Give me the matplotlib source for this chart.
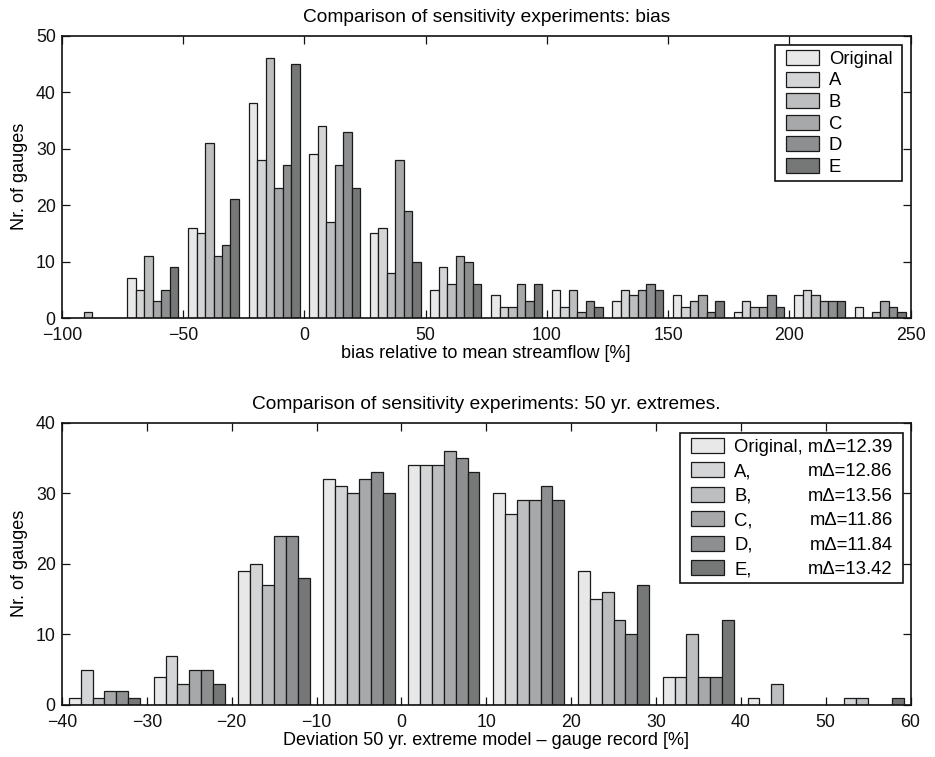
import matplotlib
matplotlib.use("Agg")
import matplotlib.pyplot as plt
from matplotlib.patches import Rectangle
import numpy as np

plt.rcParams['font.family'] = ['Liberation Sans', 'DejaVu Sans']
plt.rcParams['axes.unicode_minus'] = True

# ---------------- data ----------------
series_names = ["Original", "A", "B", "C", "D", "E"]
colors = ['#e7e8e7', '#d4d5d6', '#bdbebf', '#a7a8a9', '#8e8f90', '#767777']

# top: bias relative to mean streamflow, bins of 25 %
bias_centers = [-87.5, -62.5, -37.5, -12.5, 12.5, 37.5, 62.5, 87.5,
                112.5, 137.5, 162.5, 187.5, 212.5, 237.5]
bias_original = [0, 7, 16, 38, 29, 15, 5, 4, 5, 3, 4, 1, 4, 2]
bias_A = [0, 5, 15, 28, 34, 16, 9, 2, 2, 5, 2, 3, 5, 0]
bias_B = [1, 11, 31, 46, 17, 8, 6, 2, 5, 4, 3, 2, 4, 1]
bias_C = [0, 3, 11, 23, 27, 28, 11, 6, 1, 5, 4, 2, 3, 3]
bias_D = [0, 5, 13, 27, 33, 19, 10, 3, 3, 6, 1, 4, 3, 2]
bias_E = [0, 9, 21, 45, 23, 10, 6, 6, 2, 5, 3, 2, 3, 1]
bias_bin_width = 25

# bottom: deviation of 50 yr extremes, bins of 10 %
ext_centers = [-35, -25, -15, -5, 5, 15, 25, 35, 45, 55]
ext_original = [1, 4, 19, 32, 34, 30, 19, 4, 1, 0]
ext_A = [5, 7, 20, 31, 34, 27, 15, 4, 0, 1]
ext_B = [1, 3, 17, 30, 34, 29, 16, 10, 3, 1]
ext_C = [2, 5, 24, 32, 36, 29, 12, 4, 0, 0]
ext_D = [2, 5, 24, 33, 35, 31, 10, 4, 0, 0]
ext_E = [1, 3, 18, 30, 33, 29, 17, 12, 0, 1]
ext_bin_width = 10
ext_mdelta = [12.39, 12.86, 13.56, 11.86, 11.84, 13.42]

bias_xticks = [-100, -50, 0, 50, 100, 150, 200, 250]
bias_yticks = [0, 10, 20, 30, 40, 50]
ext_xticks = [-40, -30, -20, -10, 0, 10, 20, 30, 40, 50, 60]
ext_yticks = [0, 10, 20, 30, 40]

# ---------------- figure ----------------
W_PX, H_PX = 935, 757
fig = plt.figure(figsize=(W_PX / 100, H_PX / 100), dpi=100)
ax1 = fig.add_axes([0.0663, 0.5799, 0.9075, 0.3732])
ax2 = fig.add_axes([0.0663, 0.0687, 0.9075, 0.3729])

TICK_FS = 12.8
LAB_FS = 13
TITLE_FS = 13.8
LEG_FS = 13.3
EDGE = '#1a1a1a'
INK = '#111111'


def grouped(ax, centers, data, binw):
    centers = np.asarray(centers, dtype=float)
    bw = 0.14 * binw
    handles = []
    for i, (vals, c) in enumerate(zip(data, colors)):
        h = ax.bar(centers + (i - 2.5) * bw, vals, width=bw, color=c,
                   edgecolor=EDGE, linewidth=0.9, zorder=2)
        handles.append(h)
    return handles


def style(ax, xlim, ylim, xt, yt):
    ax.set_xlim(*xlim)
    ax.set_ylim(*ylim)
    ax.set_xticks(xt)
    ax.set_yticks(yt)
    ax.tick_params(direction='in', top=True, right=True, length=5.8,
                   width=0.9, labelsize=TICK_FS, colors=INK)
    ax.tick_params(axis='x', pad=6.4)
    ax.tick_params(axis='y', pad=4.5)
    for s in ax.spines.values():
        s.set_linewidth(1.2)
        s.set_color(INK)
        s.set_zorder(5)


def make_legend(ax, handles, labels, right_px, top_px, spacing):
    # content anchored at upper right; frame drawn separately with wider side padding
    leg = ax.legend(handles, labels, loc='upper right',
                    bbox_to_anchor=((right_px - 10) / W_PX, 1 - (top_px + 5) / H_PX),
                    bbox_transform=fig.transFigure, borderaxespad=0,
                    fontsize=LEG_FS, frameon=False, borderpad=0,
                    handlelength=1.77, handleheight=0.87,
                    labelspacing=spacing, handletextpad=0.55)
    leg.set_zorder(6)
    return leg


def add_frame(ax, leg, renderer, left_pad=11, right_pad=10, vpad=5):
    bb = leg.get_window_extent(renderer)
    x0, y0 = bb.x0 - left_pad, bb.y0 - vpad
    w, h = bb.width + left_pad + right_pad, bb.height + 2 * vpad
    inv = ax.transAxes.inverted()
    (ax0, ay0) = inv.transform((x0, y0))
    (ax1_, ay1) = inv.transform((x0 + w, y0 + h))
    rect = Rectangle((ax0, ay0), ax1_ - ax0, ay1 - ay0, transform=ax.transAxes,
                     facecolor='white', edgecolor=INK, linewidth=1.2,
                     zorder=5.5, clip_on=False)
    ax.add_patch(rect)


h1 = grouped(ax1, bias_centers,
             [bias_original, bias_A, bias_B, bias_C, bias_D, bias_E],
             bias_bin_width)
style(ax1, (-100, 250), (0, 50), bias_xticks, bias_yticks)
ax1.set_title("Comparison of sensitivity experiments: bias", fontsize=TITLE_FS, pad=10)
ax1.set_xlabel("bias relative to mean streamflow [%]", fontsize=LAB_FS, labelpad=0.5)
ax1.set_ylabel("Nr. of gauges", fontsize=LAB_FS, labelpad=6)
leg1 = make_legend(ax1, h1, series_names, 902.3, 45, 0.2)

h2 = grouped(ax2, ext_centers,
             [ext_original, ext_A, ext_B, ext_C, ext_D, ext_E],
             ext_bin_width)
style(ax2, (-40, 60), (0, 40), ext_xticks, ext_yticks)
ax2.set_title("Comparison of sensitivity experiments: 50 yr. extremes.", fontsize=TITLE_FS, pad=10)
ax2.set_xlabel("Deviation 50 yr. extreme model \u2013 gauge record [%]", fontsize=LAB_FS, labelpad=1)
ax2.set_ylabel("Nr. of gauges", fontsize=LAB_FS, labelpad=6)
ext_labels = [series_names[0] + ", m\u0394=%.2f" % ext_mdelta[0]] + [n + "," for n in series_names[1:]]
leg2 = make_legend(ax2, h2, ext_labels, 902.7, 432.7, 0.36)

fig.canvas.draw()
renderer = fig.canvas.get_renderer()
add_frame(ax1, leg1, renderer)
add_frame(ax2, leg2, renderer)

texts = leg2.get_texts()
x_right = texts[0].get_window_extent(renderer).x1
W, H = fig.bbox.width, fig.bbox.height
for t, v in zip(texts[1:], ext_mdelta[1:]):
    bb = t.get_window_extent(renderer)
    fig.text(x_right / W, bb.y0 / H, "m\u0394=%.2f" % v, ha='right', va='bottom',
             fontsize=LEG_FS, zorder=10)

fig.savefig("out.png", dpi=100)
